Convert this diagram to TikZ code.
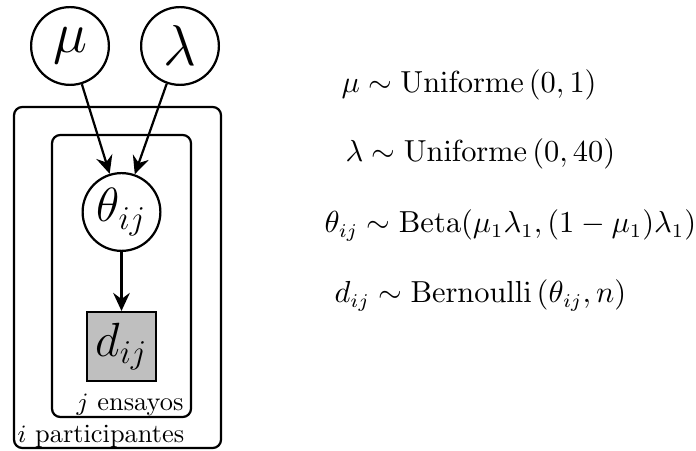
\documentclass[tikz,border=0pt]{standalone}
\usepackage{amsmath,amssymb}
\usepackage{tikz}
\usetikzlibrary{positioning,arrows.meta}

\begin{document}
\begin{tikzpicture}[
      x=0.36pt, y=-0.36pt,
      >={Stealth[length=6.5pt,width=6pt,inset=2.2pt]},
      latent/.style={circle, draw, thick, minimum size=28pt, inner sep=0pt},
      obs/.style={rectangle, draw, thick, fill=gray!50, minimum size=24.8pt,
                  inner sep=0pt},
      plate/.style={draw, thick, rounded corners=3pt},
      arr/.style={->, thick},
      lbl/.style={inner sep=0pt, font=\fontsize{9.5}{11}\selectfont},
      eqn/.style={anchor=base west, inner sep=0pt, font=\fontsize{10.6}{13}\selectfont}
    ]
    \useasboundingbox (0,0) rectangle (696,451);
    % hyperparameters and per-trial nodes
    \node[latent] (mu)    at (70,46)    {\huge$\mu$};
    \node[latent] (lam)   at (180,46)   {\huge$\lambda$};
    \node[latent] (theta) at (121.5,212) {\LARGE$\theta_{ij}$};
    \node[obs]    (d)     at (121.5,346.5) {\LARGE$d_{ij}$};
    % plates
    \draw[plate] (52,135) rectangle (191,417);
    \draw[plate] (14,107) rectangle (221,448);
    \node[lbl, anchor=base east] (trials) at (184,410) {$j$ ensayos};
    \node[lbl, anchor=base west] (parts)  at (17,442)  {$i$ participantes};
    % edges
    \draw[arr] (mu) -- (theta);
    \draw[arr] (lam) -- (theta);
    \draw[arr] (theta) -- (d);
    % model specification
    \node[eqn] (eqmu)    at (341,93)  {$\mu \sim \mathrm{Uniforme}\,(0,1)$};
    \node[eqn] (eqlam)   at (345,162) {$\lambda \sim \mathrm{Uniforme}\,(0,40)$};
    \node[eqn, font=\fontsize{10.5}{13}\selectfont] (eqtheta) at (324,233)
      {$\theta_{ij} \sim \mathrm{Beta}(\mu_1\lambda_1,(1-\mu_1)\lambda_1)$};
    \node[eqn] (eqd)     at (334,303) {$d_{ij} \sim \mathrm{Bernoulli}\,(\theta_{ij},n)$};
  \end{tikzpicture}
\end{document}
